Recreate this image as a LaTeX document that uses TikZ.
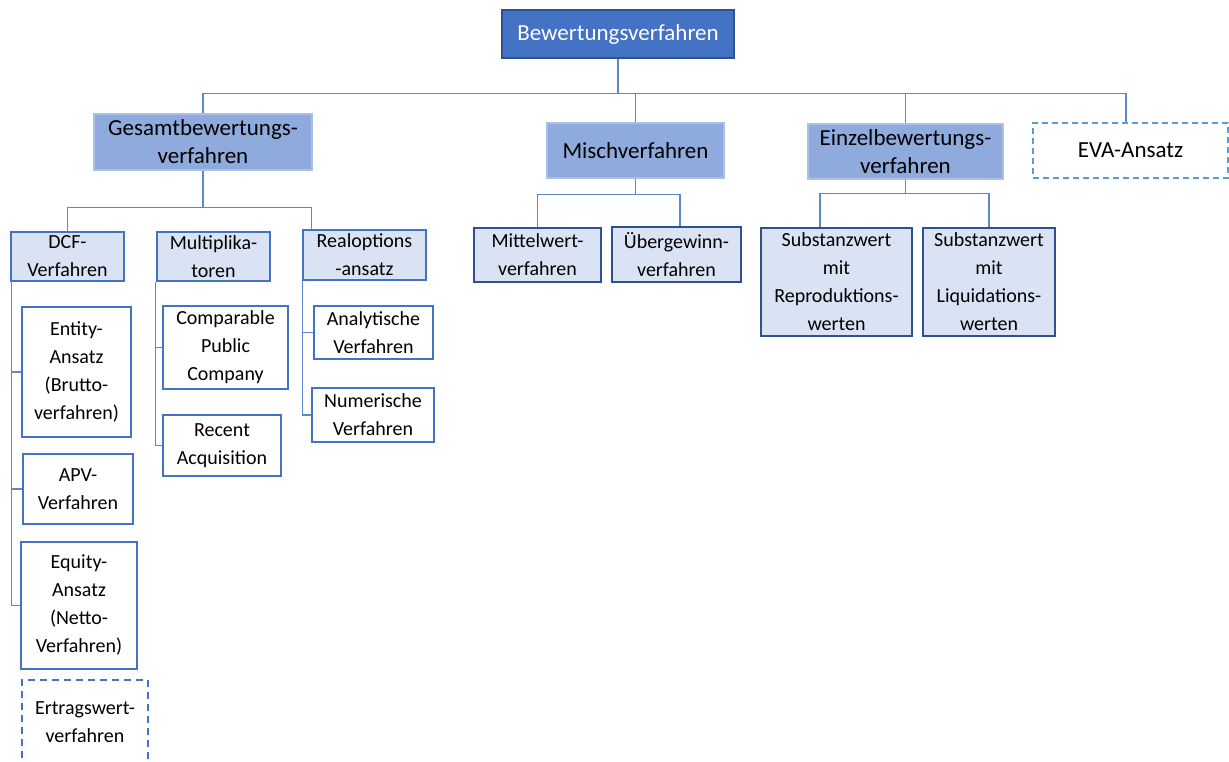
\documentclass[tikz,border=0pt]{standalone}
\usepackage{fontspec}
\setmainfont{Carlito}
\definecolor{dkblue}{HTML}{2F528F}
\definecolor{accent}{HTML}{4472C4}
\definecolor{midfill}{HTML}{8FAADC}
\definecolor{midline}{HTML}{A9C1E8}
\definecolor{lightfill}{HTML}{DAE3F3}
\definecolor{dashblue}{HTML}{5B9BD5}
\definecolor{linkblue}{HTML}{5E86CC}

\tikzset{
  box/.style={rectangle, inner sep=0pt, align=center, text=black},
  rootbox/.style={box, fill=accent, draw=dkblue, line width=1.3pt, text=white,
    font=\fontsize{23}{28}\selectfont},
  groupbox/.style={box, fill=midfill, draw=midline, line width=1.3pt,
    font=\fontsize{23}{28}\selectfont},
  kindbox/.style={box, fill=lightfill, draw=accent, line width=1.3pt,
    font=\fontsize{20}{28}\selectfont},
  kinddark/.style={kindbox, draw=dkblue},
  leafbox/.style={box, fill=white, draw=accent, line width=1.3pt,
    font=\fontsize{20}{28}\selectfont},
  openbox/.style={box, fill=white, draw=dashblue, line width=1.8pt,
    dash pattern=on 6pt off 4pt, font=\fontsize{23}{28}\selectfont},
  openleaf/.style={box, fill=white, draw=accent, line width=1.8pt,
    dash pattern=on 7pt off 5pt, font=\fontsize{20}{28}\selectfont},
  link/.style={draw=linkblue, line width=1.1pt},
}

% box by its corners: name, x1, y1, x2, y2, style, text
\newcommand\cornerbox[7]{%
  \node[#6, minimum width={(#4-#2)*1pt}, minimum height={(#5-#3)*1pt}]
    (#1) at ({(#2+#4)/2},{(#3+#5)/2}) {#7};}

\begin{document}
\begin{tikzpicture}[x=1pt, y=-1pt]
\useasboundingbox (0,0) rectangle (1229,762);
\clip (0,0) rectangle (1229,762);

% root and first level
\cornerbox{top}{502}{10}{734}{58}{rootbox}{Bewertungsverfahren}
\cornerbox{ges}{94}{114}{312}{170}{groupbox}{Gesamtbewertungs-\\verfahren}
\cornerbox{mis}{547}{123}{724}{178}{groupbox}{Mischverfahren}
\cornerbox{ein}{808}{124}{1003}{179}{groupbox}{Einzelbewertungs-\\verfahren}
\cornerbox{eva}{1033}{123}{1228}{178}{openbox}{EVA-Ansatz}

% Gesamtbewertung branch
\cornerbox{dcf}{11}{232}{124}{281}{kindbox}{DCF-\\Verfahren}
\cornerbox{mul}{157}{232}{270}{281}{kindbox}{Multiplika-\\toren}
\cornerbox{rea}{303}{230}{426}{280}{kindbox}{Realoptions\\-ansatz}

\cornerbox{ent}{22}{307}{131}{437}{leafbox}{Entity-\\Ansatz\\(Brutto-\\verfahren)}
\cornerbox{apv}{23}{454}{133}{524}{leafbox}{APV-\\Verfahren}
\cornerbox{equ}{21}{542}{137}{669}{leafbox}{Equity-\\Ansatz\\(Netto-\\Verfahren)}
\cornerbox{ert}{22}{680}{148}{765}{openleaf}{Ertragswert-\\verfahren}

\cornerbox{cmp}{163}{306}{288}{389}{leafbox}{Comparable\\Public\\Company}
\cornerbox{rec}{163}{415}{281}{476}{leafbox}{Recent\\Acquisition}

\cornerbox{ana}{314}{306}{433}{359}{leafbox}{Analytische\\Verfahren}
\cornerbox{num}{312}{388}{434}{442}{leafbox}{Numerische\\Verfahren}

% Mischverfahren branch
\cornerbox{mit}{474}{228}{601}{282}{kinddark}{Mittelwert-\\verfahren}
\cornerbox{ueb}{612}{227}{741}{282}{kinddark}{Übergewinn-\\verfahren}

% Einzelbewertung branch
\cornerbox{rep}{761}{228}{912}{336}{kinddark}{Substanzwert\\mit\\Reproduktions-\\werten}
\cornerbox{liq}{923}{228}{1055}{336}{kinddark}{Substanzwert\\mit\\Liquidations-\\werten}

% connectors: first level bus
\draw[link] (ges.north) -- ++(0,-20) coordinate (bus1) -| ([xshift=-4.5pt]eva.north);
\draw[link] (top.south) -- (top.south |- bus1);
\draw[link] (mis.north) -- (mis.north |- bus1);
\draw[link] (ein.north) -- (ein.north |- bus1);

% Gesamtbewertung
\draw[link] (ges.south) -- ++(0,37) coordinate (bus2);
\draw[link] (dcf.north) -- (dcf.north |- bus2) -| ([xshift=9pt]rea.north west);
\coordinate (dcfspine) at ([xshift=1pt]dcf.south west);
\coordinate (mulspine) at ([xshift=-1pt]mul.south west);
\coordinate (reaspine) at (rea.south west);
\draw[link] (dcfspine) |- (equ.west);
\draw[link] (ent.west) -- (ent.west -| dcfspine);
\draw[link] (apv.west) -- (apv.west -| dcfspine);
\draw[link] (mulspine) |- (rec.west);
\draw[link] (cmp.west) -- (cmp.west -| mulspine);
\draw[link] (reaspine) |- (num.west);
\draw[link] (ana.west) -- (ana.west -| reaspine);

% Mischverfahren
\draw[link] (mis.south) -- ++(0,16) coordinate (bus3);
\draw[link] (mit.north) |- (bus3) -| ([xshift=3.5pt]ueb.north);

% Einzelbewertung
\draw[link] (ein.south) -- ++(0,14) coordinate (bus4);
\draw[link] ([xshift=-16.5pt]rep.north) |- (bus4) -| (liq.north);
\end{tikzpicture}
\end{document}
